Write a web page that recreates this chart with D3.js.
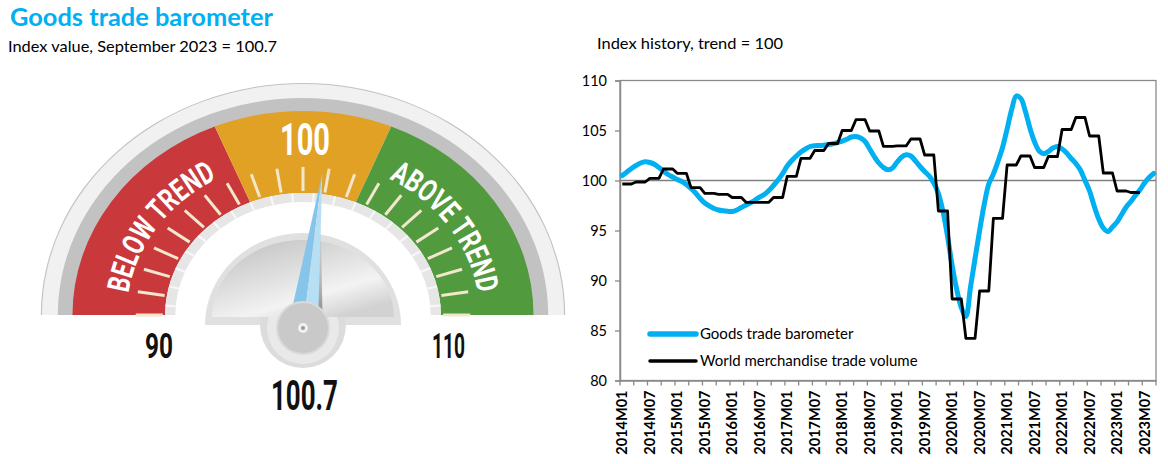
<!DOCTYPE html>
<html><head><meta charset="utf-8">
<script src="https://cdn.jsdelivr.net/npm/d3@7"></script>
<style>
html,body{margin:0;padding:0;background:#fff;}
svg{display:block;font-family:Lato,"Open Sans",sans-serif;}
</style></head><body>
<svg id="c" width="1168" height="464"></svg>
<script>
// ---------- data ----------
const chartTitle = "Goods trade barometer";
const gaugeSubtitle = "Index value, September 2023 = 100.7";
const historyTitle = "Index history, trend = 100";
const gaugeValue = 100.7;
const gaugeRange = [90, 110];
const zoneBreaks = [90, 97.5, 102.5, 110];
const zoneLabels = ["BELOW TREND", "100", "ABOVE TREND"];
const endLabels = ["90", "110"];
const seriesNames = ["Goods trade barometer", "World merchandise trade volume"];
const startYear = 2014;
const monthCount = 117;
const yTicks = [80, 85, 90, 95, 100, 105, 110];

const barometer = [
100.5, 100.85, 101.2, 101.5, 101.75, 101.87, 101.8, 101.62, 101.3, 100.95, 100.6, 100.35,
100.1, 99.9, 99.6, 99.2, 98.75, 98.2, 97.75, 97.45, 97.2, 97.05, 96.97, 96.92,
96.9, 97.05, 97.3, 97.55, 97.78, 98.05, 98.35, 98.6, 99.0, 99.5, 100.05, 100.7,
101.45, 102.0, 102.45, 102.85, 103.15, 103.4, 103.48, 103.5, 103.52, 103.6, 103.68, 103.8,
103.93, 104.12, 104.35, 104.4, 104.25, 103.9, 103.15, 102.4, 101.75, 101.3, 101.07, 101.25,
101.85, 102.35, 102.57, 102.45, 101.95, 101.4, 100.9, 100.45, 99.75, 98.7, 96.9, 94.4,
91.5, 89.1, 87.3, 86.4, 89.3, 92.2, 95.0, 97.6, 99.65, 100.65, 101.9, 103.3,
105.15, 107.1, 108.45, 108.2, 106.9, 105.2, 103.85, 102.95, 102.68, 102.9, 103.25, 103.4,
103.15, 102.75, 102.2, 101.7, 101.05, 100.0, 98.95, 97.45, 96.15, 95.25, 94.9, 95.35,
95.85, 96.6, 97.35, 97.9, 98.5, 99.07, 99.75, 100.3, 100.7
];

const tradeVolume = [
99.65,99.65,99.65, 99.85,99.85,99.85, 100.22,100.22,100.22, 101.15,101.15,101.15,
100.72,100.72,100.72, 99.28,99.28,99.28, 98.72,98.72,98.72, 98.62,98.62,98.62,
98.3,98.3,98.3, 97.82,97.82,97.82, 97.82,97.82,97.82, 98.3,98.3,98.3,
100.42,100.42,100.42, 102.22,102.22,102.22, 103.0,103.0,103.0, 103.7,103.7,103.7,
105.0,105.0,105.0, 106.08,106.08,106.08, 104.95,104.95,104.95, 103.42,103.42,103.42,
103.47,103.47,103.47, 104.15,104.15,104.15, 102.55,102.55,102.55, 96.95,96.95,96.95,
88.15,88.15,88.15, 84.22,84.22,84.22, 88.95,88.95,88.95, 96.22,96.22,96.22,
101.55,101.55,101.55, 102.45,102.45,102.45, 101.3,101.3,101.3, 102.4,102.4,102.4,
105.1,105.1,105.1, 106.3,106.3,106.3, 104.45,104.45,104.45, 100.75,100.75,100.75,
98.95,98.95,98.95, 98.8,98.8,98.8
];

const months = d3.range(monthCount).map(i =>
  `${startYear + Math.floor(i / 12)}M${String(i % 12 + 1).padStart(2, "0")}`);

// ---------- setup ----------
const svg = d3.select("#c");
const defs = svg.append("defs");

// titles
svg.append("text").attr("x", 10).attr("y", 26).text(chartTitle)
  .attr("font-size", 24).attr("font-weight", 700).attr("fill", "#00b0f0")
  .attr("textLength", 263).attr("lengthAdjust", "spacingAndGlyphs");
svg.append("text").attr("x", 8).attr("y", 52).text(gaugeSubtitle)
  .attr("font-size", 16).attr("fill", "#000")
  .attr("textLength", 269).attr("lengthAdjust", "spacingAndGlyphs");
svg.append("text").attr("x", 597).attr("y", 49).text(historyTitle)
  .attr("font-size", 16).attr("fill", "#000")
  .attr("textLength", 186).attr("lengthAdjust", "spacingAndGlyphs");

// ---------- gauge ----------
const G = { cx: 303, cy: 315, sx: 1.13 };
const ang = d3.scaleLinear().domain(gaugeRange).range([-Math.PI / 2, Math.PI / 2]);
const arc = d3.arc();
const A0 = -Math.PI / 2, A1 = Math.PI / 2;
const gauge = svg.append("g").attr("transform", `translate(${G.cx},${G.cy}) scale(${G.sx},1)`);

gauge.append("path").attr("d", arc({ innerRadius: 203, outerRadius: 232, startAngle: A0, endAngle: A1 }))
  .attr("fill", "#c2c2c2");
gauge.append("path").attr("d", arc({ innerRadius: 217, outerRadius: 231, startAngle: A0, endAngle: A1 }))
  .attr("fill", "#f1f1f1");

const zoneColors = ["#c9383a", "#e1a125", "#529a3e"];
d3.range(zoneBreaks.length - 1).forEach(i => {
  gauge.append("path")
    .attr("d", arc({ innerRadius: 122, outerRadius: 204, startAngle: ang(zoneBreaks[i]), endAngle: ang(zoneBreaks[i + 1]) }))
    .attr("fill", zoneColors[i]);
});
gauge.append("path").attr("d", arc({ innerRadius: 113, outerRadius: 122, startAngle: A0, endAngle: A1 }))
  .attr("fill", "#e6e6e6");

const tickVals = d3.range(gaugeRange[0], gaugeRange[1] + 1);
tickVals.slice(0, -1).forEach(v => {
  const a = ang(v + 0.5);
  gauge.append("line")
    .attr("x1", 113 * Math.sin(a)).attr("y1", -113 * Math.cos(a))
    .attr("x2", 122 * Math.sin(a)).attr("y2", -122 * Math.cos(a))
    .attr("stroke", "#f8f8f8").attr("stroke-width", 2).attr("vector-effect", "non-scaling-stroke");
});
tickVals.forEach(v => {
  const a = ang(v);
  gauge.append("line")
    .attr("x1", 124 * Math.sin(a)).attr("y1", -124 * Math.cos(a))
    .attr("x2", 148 * Math.sin(a)).attr("y2", -148 * Math.cos(a))
    .attr("stroke", "#f3e6cc").attr("stroke-width", 3).attr("vector-effect", "non-scaling-stroke");
});

// curved zone labels
function ellArc(a0, a1, r) {
  const x0 = G.cx + G.sx * r * Math.sin(a0), y0 = G.cy - r * Math.cos(a0);
  const x1 = G.cx + G.sx * r * Math.sin(a1), y1 = G.cy - r * Math.cos(a1);
  return `M${x0},${y0} A${G.sx * r},${r} 0 0 1 ${x1},${y1}`;
}
const deg = Math.PI / 180;
[[zoneLabels[0], -56 * deg, "tpL"], [zoneLabels[2], 56 * deg, "tpR"]].forEach(([t, c, id]) => {
  defs.append("path").attr("id", id).attr("d", ellArc(c - 34 * deg, c + 34 * deg, 156));
  svg.append("text").attr("font-family", "Roboto, sans-serif").attr("font-weight", 700)
    .attr("font-size", 31).attr("fill", "#fff")
    .append("textPath").attr("href", "#" + id).attr("startOffset", "50%")
    .attr("text-anchor", "middle").attr("textLength", 150).attr("lengthAdjust", "spacingAndGlyphs")
    .text(t);
});
svg.append("text").attr("x", 305).attr("y", 155).attr("text-anchor", "middle")
  .attr("font-family", "Roboto, sans-serif").attr("font-weight", 700).attr("font-size", 45)
  .attr("fill", "#fff").attr("textLength", 50).attr("lengthAdjust", "spacingAndGlyphs").text(zoneLabels[1]);

// end labels & value
svg.append("text").attr("x", 159).attr("y", 358).attr("text-anchor", "middle")
  .attr("font-family", "Roboto, sans-serif").attr("font-weight", 700).attr("font-size", 35)
  .attr("fill", "#111").attr("textLength", 28).attr("lengthAdjust", "spacingAndGlyphs").text(endLabels[0]);
svg.append("text").attr("x", 448.5).attr("y", 358).attr("text-anchor", "middle")
  .attr("font-family", "Roboto, sans-serif").attr("font-weight", 700).attr("font-size", 35)
  .attr("fill", "#111").attr("textLength", 33).attr("lengthAdjust", "spacingAndGlyphs").text(endLabels[1]);
svg.append("text").attr("x", 304.5).attr("y", 410).attr("text-anchor", "middle")
  .attr("font-family", "Roboto, sans-serif").attr("font-weight", 700).attr("font-size", 42)
  .attr("fill", "#111").attr("textLength", 67).attr("lengthAdjust", "spacingAndGlyphs").text(d3.format(".1f")(gaugeValue));

// hub
const hubGrad = defs.append("linearGradient").attr("id", "hubGrad")
  .attr("x1", 0).attr("y1", 0).attr("x2", 0.7).attr("y2", 1);
hubGrad.append("stop").attr("offset", 0).attr("stop-color", "#bdbdbd");
hubGrad.append("stop").attr("offset", 0.55).attr("stop-color", "#e4e4e4");
hubGrad.append("stop").attr("offset", 0.75).attr("stop-color", "#f3f3f3");
hubGrad.append("stop").attr("offset", 1).attr("stop-color", "#d2d2d2");

svg.append("path").attr("d", "M205,325 A98,92 0 0 1 401,325 Z").attr("fill", "#e0e0e0");
svg.append("circle").attr("cx", 303).attr("cy", 325).attr("r", 43).attr("fill", "#dcdcdc");
svg.append("circle").attr("cx", 303).attr("cy", 328).attr("r", 36).attr("fill", "#e9e9e9");
svg.append("path").attr("d", "M212,317 A91,77 0 0 1 394,317 Z").attr("fill", "url(#hubGrad)");

// needle
const na = ang(gaugeValue);
const visAngle = Math.atan2(G.sx * Math.sin(na), Math.cos(na)) / deg;
const needle = svg.append("g").attr("transform", `translate(303,328) rotate(${visAngle})`);
const shGrad = defs.append("linearGradient").attr("id", "shGrad").attr("x1", 0).attr("y1", 1).attr("x2", 0).attr("y2", 0);
shGrad.append("stop").attr("offset", 0).attr("stop-color", "#6f6f6f").attr("stop-opacity", 0.9);
shGrad.append("stop").attr("offset", 1).attr("stop-color", "#9a9a9a").attr("stop-opacity", 0);
needle.append("polygon").attr("points", "15,0 20,0 4,-110 1,-110").attr("fill", "url(#shGrad)");
needle.append("polygon").attr("points", "0,-156 -15,0 0,0").attr("fill", "#86c5e9");
needle.append("polygon").attr("points", "0,-156 0,0 15,0").attr("fill", "#b7dff4");

svg.append("circle").attr("cx", 303).attr("cy", 328).attr("r", 26).attr("fill", "#c9c9c9")
  .attr("stroke", "#dadada").attr("stroke-width", 2);
svg.append("circle").attr("cx", 303).attr("cy", 328).attr("r", 5).attr("fill", "#f0f0f0");
svg.append("circle").attr("cx", 303).attr("cy", 328).attr("r", 2).attr("fill", "#9a9a9a");

// ---------- line chart ----------
const plot = { left: 620, right: 1156, top: 80.5, bottom: 380.5 };
const x = d3.scaleBand().domain(months).range([plot.left, plot.right]).padding(0);
const y = d3.scaleLinear().domain([80, 110]).range([plot.bottom, plot.top]);
const xc = i => x(months[i]) + x.bandwidth() / 2;
const axisColor = "#8a8a8a";
const chart = svg.append("g");

chart.append("rect").attr("x", plot.left).attr("y", plot.top)
  .attr("width", plot.right - plot.left).attr("height", plot.bottom - plot.top)
  .attr("fill", "none").attr("stroke", axisColor).attr("stroke-width", 1.3);
chart.append("line").attr("x1", plot.left).attr("x2", plot.right)
  .attr("y1", y(100)).attr("y2", y(100)).attr("stroke", "#7f7f7f").attr("stroke-width", 1.5);

chart.append("g").attr("transform", `translate(${plot.left},0)`)
  .call(d3.axisLeft(y).tickValues(yTicks).tickSize(5).tickPadding(8).tickFormat(d3.format("d")))
  .call(g => {
    g.select(".domain").attr("stroke", axisColor).attr("stroke-width", 1.5);
    g.selectAll(".tick line").attr("stroke", axisColor).attr("stroke-width", 1.3);
    g.selectAll("text").attr("font-family", "Lato").attr("font-size", 14.5).attr("fill", "#000");
  });

const labelMonths = months.filter((m, i) => i % 6 === 0);
chart.append("g").attr("transform", `translate(0,${plot.bottom})`)
  .call(d3.axisBottom(x).tickValues(labelMonths).tickSize(0).tickSizeOuter(0))
  .call(g => {
    g.select(".domain").attr("stroke", axisColor).attr("stroke-width", 1.5);
    g.selectAll("text").attr("font-family", "Lato").attr("font-size", 14.5).attr("font-weight", 700)
      .attr("fill", "#000").attr("transform", "rotate(-90)").attr("x", -10).attr("y", 0)
      .attr("dy", "0.35em").attr("text-anchor", "end");
  });
const quarterEdges = months.filter((m, i) => i % 3 === 0).map(m => x(m)).concat([plot.right]);
chart.append("g").selectAll("line").data(quarterEdges).join("line")
  .attr("x1", d => d).attr("x2", d => d).attr("y1", plot.bottom).attr("y2", plot.bottom + 5)
  .attr("stroke", axisColor).attr("stroke-width", 1.3);

const lineB = d3.line().x((d, i) => xc(i)).y(d => y(d)).curve(d3.curveCatmullRom.alpha(0.5));
chart.append("path").datum(barometer).attr("d", lineB).attr("fill", "none")
  .attr("stroke", "#00b0f0").attr("stroke-width", 5).attr("stroke-linejoin", "round").attr("stroke-linecap", "round");
const lineT = d3.line().x((d, i) => xc(i)).y(d => y(d));
chart.append("path").datum(tradeVolume).attr("d", lineT).attr("fill", "none")
  .attr("stroke", "#000").attr("stroke-width", 2.8).attr("stroke-linejoin", "round");

// legend
const legColors = ["#00b0f0", "#000"];
const legWidths = [5.5, 3.5];
seriesNames.forEach((name, i) => {
  const ly = 334 + i * 27;
  chart.append("line").attr("x1", 650).attr("x2", 696).attr("y1", ly).attr("y2", ly)
    .attr("stroke", legColors[i]).attr("stroke-width", legWidths[i]).attr("stroke-linecap", "round");
  chart.append("text").attr("x", 700).attr("y", ly + 5).text(name)
    .attr("font-size", 15).attr("fill", "#000");
});
</script>
</body></html>
